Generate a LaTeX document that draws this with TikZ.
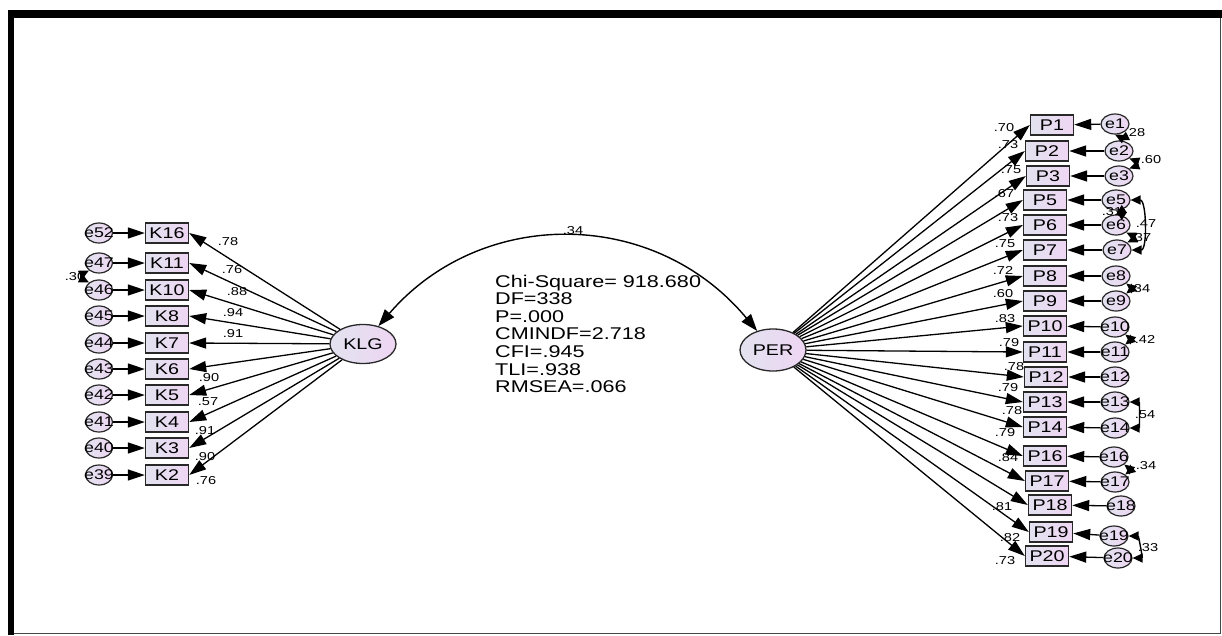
\documentclass[tikz,border=0pt]{standalone}
\usepackage{fontspec}
\setmainfont[FakeStretch=1.27]{Liberation Sans}
\usetikzlibrary{shapes.geometric,arrows.meta}
\definecolor{lvA}{RGB}{226,226,240}
\definecolor{lvB}{RGB}{238,214,242}
\definecolor{bord}{RGB}{40,40,40}
\definecolor{edgegray}{RGB}{70,70,70}
\begin{document}
\begin{tikzpicture}[x=1pt,y=-1pt,
  obs/.style={draw=bord, line width=1.4pt, left color=lvA, right color=lvB,
    minimum width=43pt, minimum height=20pt, inner sep=0pt,
    font=\fontsize{15.5}{15.5}\selectfont},
  elab/.style={inner sep=0pt, font=\fontsize{14}{14}\selectfont},
  err/.style={ellipse, draw=bord, line width=1.2pt, left color=lvA, right color=lvB,
    minimum width=27pt, minimum height=20pt, inner sep=0pt,
    label={[elab]center:#1}},
  lat/.style={ellipse, draw=bord, line width=1.3pt, left color=lvA, right color=lvB,
    minimum width=66pt, minimum height=39pt, inner sep=0pt,
    font=\fontsize{15.5}{15.5}\selectfont},
  arr/.style={line width=1.3pt, -{Triangle[length=17pt,width=11pt]}},
  bigcov/.style={line width=1.4pt, {Triangle[length=17pt,width=12pt]}-{Triangle[length=17pt,width=12pt]}},
  cov/.style={line width=1.4pt, {Triangle[length=10pt,width=9pt]}-{Triangle[length=10pt,width=9pt]}},
  coef/.style={inner sep=0pt, font=\fontsize{11.5}{11.5}\selectfont},
  stats/.style={inner sep=0pt, align=left, font=\fontsize{17}{17.6}\selectfont},
]
\useasboundingbox (0,0) rectangle (1222,635);
% frame
\fill[black] (8,10) rectangle (1222,18);
\fill[black] (8,10) rectangle (14,635);
\draw[edgegray, line width=1pt] (1220.5,18) -- (1220.5,633.5) -- (14,633.5);

% latent factors
\node[lat] (KLG) at (363,344) {KLG};
\node[lat, minimum height=42pt] (PER) at (773,350) {PER};

% left indicators and errors
\foreach \n/\e/\y in {K16/e52/233, K11/e47/263, K10/e46/290, K8/e45/316, K7/e44/343,
                      K6/e43/369, K5/e42/395, K4/e41/422, K3/e40/448, K2/e39/475}{
  \node[obs] (\n) at (167,\y) {\n};
  \node[err=\e] (\e) at (99,\y) {};
  \draw[arr] (\e) -- (\n);
  \draw[arr] (KLG) -- (\n.east);
}

% right indicators and errors
\foreach \n/\px/\py/\e/\ex/\ey in {
  P1/1052/125/e1/1115/124, P2/1047/151/e2/1119/151, P3/1048/176/e3/1119/176,
  P5/1045/200/e5/1116/200, P6/1045/225/e6/1116/225, P7/1045/250/e7/1117/250,
  P8/1045/276/e8/1116/276, P9/1045/301/e9/1116/301, P10/1045/326/e10/1115/327,
  P11/1045/352/e11/1115/352, P12/1046/377/e12/1115/377, P13/1045/402/e13/1115/402,
  P14/1045/427/e14/1115/428, P16/1045/456/e16/1114/457, P17/1047/481/e17/1115/482,
  P18/1050/505/e18/1121/506, P19/1051/532/e19/1114/536, P20/1047/556/e20/1118/558}{
  \node[obs] (\n) at (\px,\py) {\n};
  \node[err=\e, minimum width=28pt] (\e) at (\ex,\ey) {};
  \draw[arr] (\e) -- (\n);
  \draw[arr] (PER) -- (\n.west);
}

% factor covariance
\draw[bigcov] (KLG) .. controls (481,207) and (654,207) .. (PER);
\node[coef] (c0) at (573,231) {.34};

% fit statistics
\node[stats, anchor=north west] (fit) at (495,274.5)
  {Chi-Square= 918.680\\DF=338\\P=.000\\CMINDF=2.718\\CFI=.945\\TLI=.938\\RMSEA=.066};

% left loadings
\foreach \v/\x/\y [count=\i] in {.78/228/242, .76/232/270, .88/237/292, .94/233/313, .91/233/334,
                      .90/209/378, .57/208/402, .91/205/431, .90/205/457, .76/206/481}{
  \node[coef] (lk\i) at (\x,\y) {\v};
}
% right loadings
\foreach \v/\x/\y [count=\i] in {.70/1004/128, .73/1008/145, .75/1011/170, .67/1004/194, .73/1008/218,
   .75/1005/244, .72/1003/270, .60/1003/294, .83/1005/319, .79/1009/343, .78/1014/367,
   .79/1008/388, .78/1012/411, .79/1005/433, .84/1008/458, .81/1002/507, .82/1010/538, .73/1005/561}{
  \node[coef] (lp\i) at (\x,\y) {\v};
}

% error covariances
\draw[cov] (e47.south west) .. controls +(-8,4) and +(-8,-4) .. (e46.north west);
\node[coef] (c1) at (75,277) {.30};

\draw[cov] (e1.south) .. controls +(4,2) and +(4,-2) .. (e2.north);
\node[coef] (c2) at (1135,133) {.28};
\draw[cov] (e2.south east) .. controls +(8,3) and +(8,-3) .. (e3.north east);
\node[coef] (c3) at (1151,160) {.60};
\draw[cov] (e5.south) .. controls +(3,2) and +(3,-2) .. (e6.north);
\node[coef] (c4) at (1112,212) {.31};
\draw[cov] (e5.east) .. controls +(16,0) and +(16,0) .. (e7.east);
\node[coef] (c5) at (1146,224) {.47};
\draw[cov] (e6.south east) .. controls +(6,3) and +(6,-3) .. (e7.north east);
\node[coef] (c6) at (1141,238) {.37};
\draw[cov] (e8.south east) .. controls +(5,4) and +(5,-4) .. (e9.north east);
\node[coef] (c7) at (1140,289) {.34};
\draw[cov] (e10.south east) .. controls +(5,4) and +(5,-4) .. (e11.north east);
\node[coef] (c8) at (1145,339) {.42};
\draw[cov] (e13.east) .. controls +(10,0) and +(10,0) .. (e14.east);
\node[coef] (c9) at (1145,415) {.54};
\draw[cov] (e16.south east) .. controls +(5,4) and +(5,-4) .. (e17.north east);
\node[coef] (c10) at (1146,466) {.34};
\draw[cov] (e19.east) .. controls +(10,0) and +(10,0) .. (e20.east);
\node[coef] (c11) at (1148,548) {.33};
\end{tikzpicture}
\end{document}
